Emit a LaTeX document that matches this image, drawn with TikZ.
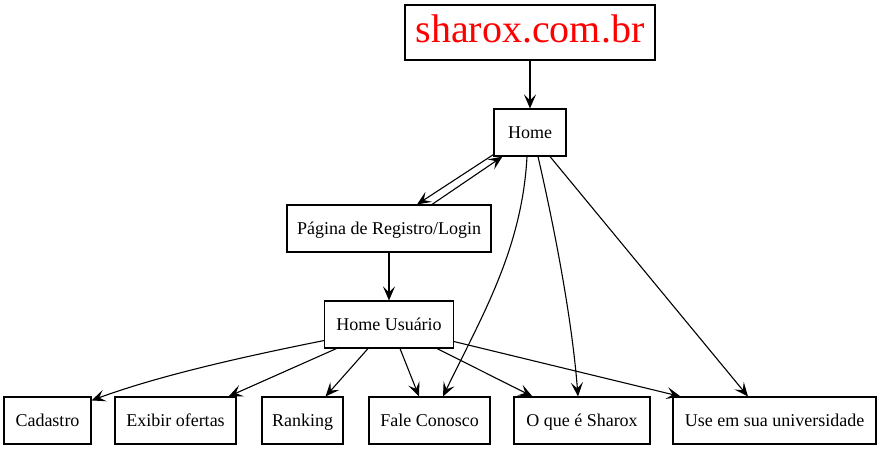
\documentclass[tikz,border=0pt]{standalone}
\usepackage{fontspec}
\setmainfont{Liberation Serif}
\usetikzlibrary{arrows.meta}
\begin{document}
\begin{tikzpicture}[x=1pt,y=-1pt,
  box/.style={draw,line width=1.1pt,inner sep=0pt,minimum height=47pt,text height=15.5pt,text depth=4pt,font=\fontsize{18}{21}\selectfont},
  edge/.style={line width=1.1pt,-{Stealth[length=14pt,width=12pt,inset=6pt]}}]
\useasboundingbox (0,0) rectangle (881,451);
\node[box,minimum width=250pt,minimum height=55pt,text height=27pt,text depth=6.5pt,font=\fontsize{40}{44}\selectfont,text=red] (site) at (530,32.5) {sharox.com.br};
\node[box,minimum width=72pt] (home) at (530,132.5) {Home};
\node[box,minimum width=204pt] (pag) at (389,228.5) {Página de Registro/Login};
\node[box,minimum width=129pt] (hu) at (389,324.5) {Home Usuário};
\node[box,minimum width=87pt] (cad) at (47.5,420.5) {Cadastro};
\node[box,minimum width=121pt] (exi) at (175.5,420.5) {Exibir ofertas};
\node[box,minimum width=81pt] (ran) at (302.5,420.5) {Ranking};
\node[box,minimum width=121pt] (fale) at (429.5,420.5) {Fale Conosco};
\node[box,minimum width=136pt] (oque) at (582,420.5) {O que é Sharox};
\node[box,minimum width=203pt] (use) at (774.5,420.5) {Use em sua universidade};

\draw[edge] (site.south) -- (home.north);
\draw[edge] ([yshift=2pt]home.south west) -- ([xshift=28pt]pag.north);
\draw[edge] ([xshift=43pt]pag.north) -- ([xshift=9pt]home.south west);
\draw[edge] (pag.south) -- (hu.north);
\draw[edge] ([xshift=-3pt]home.south) .. controls +(-5,94) and +(37,-77) .. ([xshift=13.5pt]fale.north);
\draw[edge] ([xshift=8pt]home.south) .. controls +(17,74) and +(-6,-77) .. ([xshift=-4pt]oque.north);
\draw[edge] ([xshift=20pt]home.south) -- ([xshift=-26.5pt]use.north);
\draw[edge] ([yshift=8pt]hu.south west) .. controls +(-80,16) and +(68,-25) .. ([yshift=-4pt]cad.north east);
\draw[edge] ([xshift=12.5pt]hu.south west) -- ([xshift=-8pt]exi.north east);
\draw[edge] ([xshift=-21pt]hu.south) -- ([xshift=-18pt]ran.north east);
\draw[edge] ([xshift=11pt]hu.south) -- ([xshift=-10.5pt]fale.north);
\draw[edge] ([xshift=-17pt]hu.south east) -- ([xshift=19pt]oque.north west);
\draw[edge] ([yshift=7pt]hu.south east) -- ([xshift=8pt]use.north west);
\end{tikzpicture}
\end{document}
